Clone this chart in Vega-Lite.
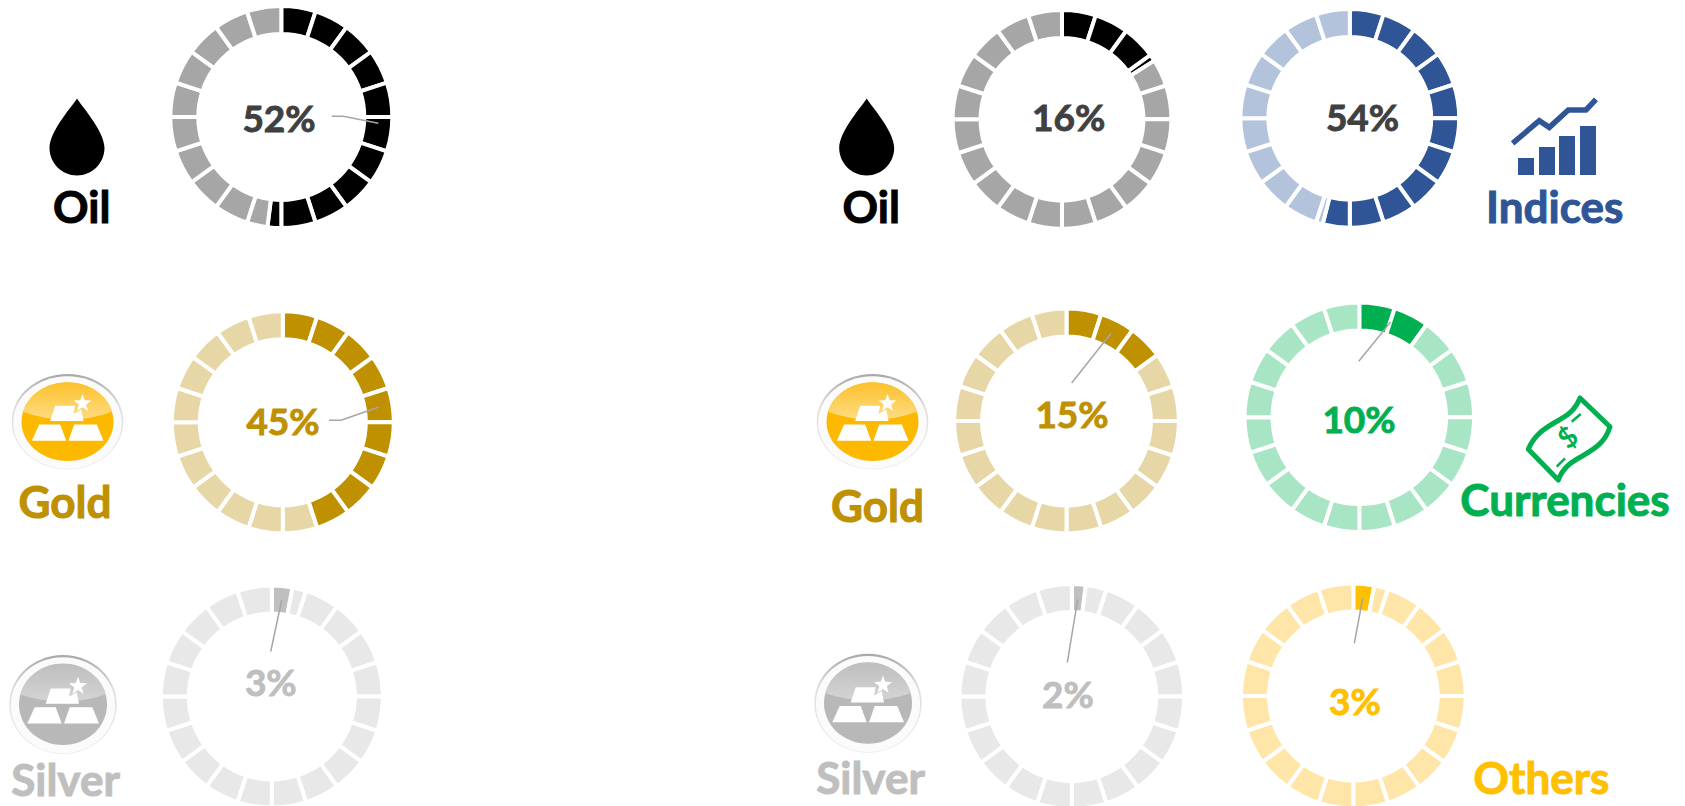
{"$schema":"https://vega.github.io/schema/vega-lite/v6.json","width":1685,"height":806,"padding":0,"autosize":"none","background":"white","view":{"stroke":null},
"config":{"text":{"font":"Lato"}},
"datasets":{
"rings":[
{"donut":1,"start":0,"end":5,"tone":"oil"},{"donut":1,"start":5,"end":10,"tone":"oil"},{"donut":1,"start":10,"end":15,"tone":"oil"},{"donut":1,"start":15,"end":20,"tone":"oil"},{"donut":1,"start":20,"end":25,"tone":"oil"},{"donut":1,"start":25,"end":30,"tone":"oil"},{"donut":1,"start":30,"end":35,"tone":"oil"},{"donut":1,"start":35,"end":40,"tone":"oil"},{"donut":1,"start":40,"end":45,"tone":"oil"},{"donut":1,"start":45,"end":50,"tone":"oil"},{"donut":1,"start":50,"end":52,"tone":"oil"},{"donut":1,"start":52,"end":55,"tone":"oilL"},{"donut":1,"start":55,"end":60,"tone":"oilL"},{"donut":1,"start":60,"end":65,"tone":"oilL"},{"donut":1,"start":65,"end":70,"tone":"oilL"},{"donut":1,"start":70,"end":75,"tone":"oilL"},{"donut":1,"start":75,"end":80,"tone":"oilL"},{"donut":1,"start":80,"end":85,"tone":"oilL"},{"donut":1,"start":85,"end":90,"tone":"oilL"},{"donut":1,"start":90,"end":95,"tone":"oilL"},{"donut":1,"start":95,"end":100,"tone":"oilL"},
{"donut":2,"start":0,"end":5,"tone":"gold"},{"donut":2,"start":5,"end":10,"tone":"gold"},{"donut":2,"start":10,"end":15,"tone":"gold"},{"donut":2,"start":15,"end":20,"tone":"gold"},{"donut":2,"start":20,"end":25,"tone":"gold"},{"donut":2,"start":25,"end":30,"tone":"gold"},{"donut":2,"start":30,"end":35,"tone":"gold"},{"donut":2,"start":35,"end":40,"tone":"gold"},{"donut":2,"start":40,"end":45,"tone":"gold"},{"donut":2,"start":45,"end":50,"tone":"goldL"},{"donut":2,"start":50,"end":55,"tone":"goldL"},{"donut":2,"start":55,"end":60,"tone":"goldL"},{"donut":2,"start":60,"end":65,"tone":"goldL"},{"donut":2,"start":65,"end":70,"tone":"goldL"},{"donut":2,"start":70,"end":75,"tone":"goldL"},{"donut":2,"start":75,"end":80,"tone":"goldL"},{"donut":2,"start":80,"end":85,"tone":"goldL"},{"donut":2,"start":85,"end":90,"tone":"goldL"},{"donut":2,"start":90,"end":95,"tone":"goldL"},{"donut":2,"start":95,"end":100,"tone":"goldL"},
{"donut":3,"start":0,"end":3,"tone":"silver"},{"donut":3,"start":3,"end":5,"tone":"silverL"},{"donut":3,"start":5,"end":10,"tone":"silverL"},{"donut":3,"start":10,"end":15,"tone":"silverL"},{"donut":3,"start":15,"end":20,"tone":"silverL"},{"donut":3,"start":20,"end":25,"tone":"silverL"},{"donut":3,"start":25,"end":30,"tone":"silverL"},{"donut":3,"start":30,"end":35,"tone":"silverL"},{"donut":3,"start":35,"end":40,"tone":"silverL"},{"donut":3,"start":40,"end":45,"tone":"silverL"},{"donut":3,"start":45,"end":50,"tone":"silverL"},{"donut":3,"start":50,"end":55,"tone":"silverL"},{"donut":3,"start":55,"end":60,"tone":"silverL"},{"donut":3,"start":60,"end":65,"tone":"silverL"},{"donut":3,"start":65,"end":70,"tone":"silverL"},{"donut":3,"start":70,"end":75,"tone":"silverL"},{"donut":3,"start":75,"end":80,"tone":"silverL"},{"donut":3,"start":80,"end":85,"tone":"silverL"},{"donut":3,"start":85,"end":90,"tone":"silverL"},{"donut":3,"start":90,"end":95,"tone":"silverL"},{"donut":3,"start":95,"end":100,"tone":"silverL"},
{"donut":4,"start":0,"end":5,"tone":"oil"},{"donut":4,"start":5,"end":10,"tone":"oil"},{"donut":4,"start":10,"end":15,"tone":"oil"},{"donut":4,"start":15,"end":16,"tone":"oil"},{"donut":4,"start":16,"end":20,"tone":"oilL"},{"donut":4,"start":20,"end":25,"tone":"oilL"},{"donut":4,"start":25,"end":30,"tone":"oilL"},{"donut":4,"start":30,"end":35,"tone":"oilL"},{"donut":4,"start":35,"end":40,"tone":"oilL"},{"donut":4,"start":40,"end":45,"tone":"oilL"},{"donut":4,"start":45,"end":50,"tone":"oilL"},{"donut":4,"start":50,"end":55,"tone":"oilL"},{"donut":4,"start":55,"end":60,"tone":"oilL"},{"donut":4,"start":60,"end":65,"tone":"oilL"},{"donut":4,"start":65,"end":70,"tone":"oilL"},{"donut":4,"start":70,"end":75,"tone":"oilL"},{"donut":4,"start":75,"end":80,"tone":"oilL"},{"donut":4,"start":80,"end":85,"tone":"oilL"},{"donut":4,"start":85,"end":90,"tone":"oilL"},{"donut":4,"start":90,"end":95,"tone":"oilL"},{"donut":4,"start":95,"end":100,"tone":"oilL"},
{"donut":5,"start":0,"end":5,"tone":"index"},{"donut":5,"start":5,"end":10,"tone":"index"},{"donut":5,"start":10,"end":15,"tone":"index"},{"donut":5,"start":15,"end":20,"tone":"index"},{"donut":5,"start":20,"end":25,"tone":"index"},{"donut":5,"start":25,"end":30,"tone":"index"},{"donut":5,"start":30,"end":35,"tone":"index"},{"donut":5,"start":35,"end":40,"tone":"index"},{"donut":5,"start":40,"end":45,"tone":"index"},{"donut":5,"start":45,"end":50,"tone":"index"},{"donut":5,"start":50,"end":54,"tone":"index"},{"donut":5,"start":54,"end":55,"tone":"indexL"},{"donut":5,"start":55,"end":60,"tone":"indexL"},{"donut":5,"start":60,"end":65,"tone":"indexL"},{"donut":5,"start":65,"end":70,"tone":"indexL"},{"donut":5,"start":70,"end":75,"tone":"indexL"},{"donut":5,"start":75,"end":80,"tone":"indexL"},{"donut":5,"start":80,"end":85,"tone":"indexL"},{"donut":5,"start":85,"end":90,"tone":"indexL"},{"donut":5,"start":90,"end":95,"tone":"indexL"},{"donut":5,"start":95,"end":100,"tone":"indexL"},
{"donut":6,"start":0,"end":5,"tone":"gold"},{"donut":6,"start":5,"end":10,"tone":"gold"},{"donut":6,"start":10,"end":15,"tone":"gold"},{"donut":6,"start":15,"end":20,"tone":"goldL"},{"donut":6,"start":20,"end":25,"tone":"goldL"},{"donut":6,"start":25,"end":30,"tone":"goldL"},{"donut":6,"start":30,"end":35,"tone":"goldL"},{"donut":6,"start":35,"end":40,"tone":"goldL"},{"donut":6,"start":40,"end":45,"tone":"goldL"},{"donut":6,"start":45,"end":50,"tone":"goldL"},{"donut":6,"start":50,"end":55,"tone":"goldL"},{"donut":6,"start":55,"end":60,"tone":"goldL"},{"donut":6,"start":60,"end":65,"tone":"goldL"},{"donut":6,"start":65,"end":70,"tone":"goldL"},{"donut":6,"start":70,"end":75,"tone":"goldL"},{"donut":6,"start":75,"end":80,"tone":"goldL"},{"donut":6,"start":80,"end":85,"tone":"goldL"},{"donut":6,"start":85,"end":90,"tone":"goldL"},{"donut":6,"start":90,"end":95,"tone":"goldL"},{"donut":6,"start":95,"end":100,"tone":"goldL"},
{"donut":7,"start":0,"end":5,"tone":"fx"},{"donut":7,"start":5,"end":10,"tone":"fx"},{"donut":7,"start":10,"end":15,"tone":"fxL"},{"donut":7,"start":15,"end":20,"tone":"fxL"},{"donut":7,"start":20,"end":25,"tone":"fxL"},{"donut":7,"start":25,"end":30,"tone":"fxL"},{"donut":7,"start":30,"end":35,"tone":"fxL"},{"donut":7,"start":35,"end":40,"tone":"fxL"},{"donut":7,"start":40,"end":45,"tone":"fxL"},{"donut":7,"start":45,"end":50,"tone":"fxL"},{"donut":7,"start":50,"end":55,"tone":"fxL"},{"donut":7,"start":55,"end":60,"tone":"fxL"},{"donut":7,"start":60,"end":65,"tone":"fxL"},{"donut":7,"start":65,"end":70,"tone":"fxL"},{"donut":7,"start":70,"end":75,"tone":"fxL"},{"donut":7,"start":75,"end":80,"tone":"fxL"},{"donut":7,"start":80,"end":85,"tone":"fxL"},{"donut":7,"start":85,"end":90,"tone":"fxL"},{"donut":7,"start":90,"end":95,"tone":"fxL"},{"donut":7,"start":95,"end":100,"tone":"fxL"},
{"donut":8,"start":0,"end":2,"tone":"silver"},{"donut":8,"start":2,"end":5,"tone":"silverL"},{"donut":8,"start":5,"end":10,"tone":"silverL"},{"donut":8,"start":10,"end":15,"tone":"silverL"},{"donut":8,"start":15,"end":20,"tone":"silverL"},{"donut":8,"start":20,"end":25,"tone":"silverL"},{"donut":8,"start":25,"end":30,"tone":"silverL"},{"donut":8,"start":30,"end":35,"tone":"silverL"},{"donut":8,"start":35,"end":40,"tone":"silverL"},{"donut":8,"start":40,"end":45,"tone":"silverL"},{"donut":8,"start":45,"end":50,"tone":"silverL"},{"donut":8,"start":50,"end":55,"tone":"silverL"},{"donut":8,"start":55,"end":60,"tone":"silverL"},{"donut":8,"start":60,"end":65,"tone":"silverL"},{"donut":8,"start":65,"end":70,"tone":"silverL"},{"donut":8,"start":70,"end":75,"tone":"silverL"},{"donut":8,"start":75,"end":80,"tone":"silverL"},{"donut":8,"start":80,"end":85,"tone":"silverL"},{"donut":8,"start":85,"end":90,"tone":"silverL"},{"donut":8,"start":90,"end":95,"tone":"silverL"},{"donut":8,"start":95,"end":100,"tone":"silverL"},
{"donut":9,"start":0,"end":3,"tone":"other"},{"donut":9,"start":3,"end":5,"tone":"otherL"},{"donut":9,"start":5,"end":10,"tone":"otherL"},{"donut":9,"start":10,"end":15,"tone":"otherL"},{"donut":9,"start":15,"end":20,"tone":"otherL"},{"donut":9,"start":20,"end":25,"tone":"otherL"},{"donut":9,"start":25,"end":30,"tone":"otherL"},{"donut":9,"start":30,"end":35,"tone":"otherL"},{"donut":9,"start":35,"end":40,"tone":"otherL"},{"donut":9,"start":40,"end":45,"tone":"otherL"},{"donut":9,"start":45,"end":50,"tone":"otherL"},{"donut":9,"start":50,"end":55,"tone":"otherL"},{"donut":9,"start":55,"end":60,"tone":"otherL"},{"donut":9,"start":60,"end":65,"tone":"otherL"},{"donut":9,"start":65,"end":70,"tone":"otherL"},{"donut":9,"start":70,"end":75,"tone":"otherL"},{"donut":9,"start":75,"end":80,"tone":"otherL"},{"donut":9,"start":80,"end":85,"tone":"otherL"},{"donut":9,"start":85,"end":90,"tone":"otherL"},{"donut":9,"start":90,"end":95,"tone":"otherL"},{"donut":9,"start":95,"end":100,"tone":"otherL"}
],
"percents":[{"slot":11,"text":"52%","tone":"text"},{"slot":12,"text":"45%","tone":"gold"},{"slot":13,"text":"3%","tone":"silver"},{"slot":14,"text":"16%","tone":"text"},{"slot":15,"text":"54%","tone":"text"},{"slot":16,"text":"15%","tone":"gold"},{"slot":17,"text":"10%","tone":"fx"},{"slot":18,"text":"2%","tone":"silver"},{"slot":19,"text":"3%","tone":"other"}],
"names":[{"slot":21,"text":"Oil","tone":"oil"},{"slot":22,"text":"Gold","tone":"gold"},{"slot":23,"text":"Silver","tone":"silver"},{"slot":24,"text":"Oil","tone":"oil"},{"slot":25,"text":"Indices","tone":"index"},{"slot":26,"text":"Gold","tone":"gold"},{"slot":27,"text":"Currencies","tone":"fx"},{"slot":28,"text":"Silver","tone":"silver"},{"slot":29,"text":"Others","tone":"other"}],
"icons":[{"slot":31,"icon":"drop"},{"slot":32,"icon":"gold"},{"slot":33,"icon":"silver"},{"slot":34,"icon":"drop"},{"slot":35,"icon":"indices"},{"slot":36,"icon":"gold"},{"slot":37,"icon":"note","text":"$","tone":"fx"},{"slot":38,"icon":"silver"}],
"leaders":[{"leader":"a","slot":41},{"leader":"a","slot":42},{"leader":"a","slot":43},{"leader":"b","slot":44},{"leader":"b","slot":45},{"leader":"b","slot":46},{"leader":"c","slot":47},{"leader":"c","slot":48},{"leader":"d","slot":49},{"leader":"d","slot":50},{"leader":"e","slot":51},{"leader":"e","slot":52},{"leader":"f","slot":53},{"leader":"f","slot":54},{"leader":"g","slot":55},{"leader":"g","slot":56}]
},
"encoding":{
"x":{"field":"slot","type":"quantitative","axis":null,"scale":{"zero":false,"nice":false,
"domain":[1,2,3,4,5,6,7,8,9,11,12,13,14,15,16,17,18,19,21,22,23,24,25,26,27,28,29,31,32,33,34,35,36,37,38,41,42,43,44,45,46,47,48,49,50,51,52,53,54,55,56],
"range":[281.3,282.8,271.8,1062,1349.8,1066.5,1359.3,1071.8,1353.3,279,283,270.8,1068.7,1362.5,1072,1359,1068,1355,81.7,65,65.5,871.2,1554.7,877.5,1565,870.5,1541.5,77,67.5,63,866.7,1554.3,872.5,1569,868,331.7,343.3,378.3,329,341,379,270.7,281.7,1071.7,1111,1358.7,1390.7,1067.3,1077.7,1354.3,1362.7]}},
"y":{"field":"slot","type":"quantitative","axis":null,"scale":{"zero":false,"nice":false,
"domain":[1,2,3,4,5,6,7,8,9,11,12,13,14,15,16,17,18,19,21,22,23,24,25,26,27,28,29,31,32,33,34,35,36,37,38,41,42,43,44,45,46,47,48,49,50,51,52,53,54,55,56],
"range":[117,422.3,696.5,119.3,118.3,421,417.2,696.5,696,131.7,435,696,131,131,428,432.7,707.7,715,222.7,517.7,795.7,222.7,223.3,521.7,515.7,794.3,794,137,421.7,704.5,137,136.7,421.7,439,703.3,116.3,116.3,123.3,420.3,420.3,407,651.7,600,383,333.3,361.3,322,662.7,599.3,643.3,598.3]}}
},
"layer":[
{"data":{"name":"rings"},"transform":[{"calculate":"datum.donut","as":"slot"},{"filter":"datum.donut<=3"}],
"mark":{"type":"arc","outerRadius":111,"innerRadius":83,"stroke":"white","strokeWidth":4},
"encoding":{"theta":{"field":"start","type":"quantitative","stack":null,"scale":{"domain":[0,100],"range":[0,6.283185]}},"theta2":{"field":"end"},"color":{"field":"tone","type":"nominal","legend":null,"scale":{"domain":["oil","oilL","gold","goldL","silver","silverL","index","indexL","fx","fxL","other","otherL","text"],"range":["#000000","#A6A6A6","#BF9000","#E8D7A6","#BFBFBF","#E8E8E8","#2F5597","#B4C3DC","#00B050","#A8E5C4","#FFC000","#FFE6A8","#404040"]}}}},
{"data":{"name":"rings"},"transform":[{"calculate":"datum.donut","as":"slot"},{"filter":"datum.donut==4||datum.donut==5"}],
"mark":{"type":"arc","outerRadius":109.4,"innerRadius":81.4,"stroke":"white","strokeWidth":4},
"encoding":{"theta":{"field":"start","type":"quantitative","stack":null,"scale":{"domain":[0,100],"range":[0,6.283185]}},"theta2":{"field":"end"},"color":{"field":"tone","type":"nominal","legend":null}}},
{"data":{"name":"rings"},"transform":[{"calculate":"datum.donut","as":"slot"},{"filter":"datum.donut==6||datum.donut==8||datum.donut==9"}],
"mark":{"type":"arc","outerRadius":112.4,"innerRadius":84.4,"stroke":"white","strokeWidth":4},
"encoding":{"theta":{"field":"start","type":"quantitative","stack":null,"scale":{"domain":[0,100],"range":[0,6.283185]}},"theta2":{"field":"end"},"color":{"field":"tone","type":"nominal","legend":null}}},
{"data":{"name":"rings"},"transform":[{"calculate":"datum.donut","as":"slot"},{"filter":"datum.donut==7"}],
"mark":{"type":"arc","outerRadius":114.8,"innerRadius":86.8,"stroke":"white","strokeWidth":4},
"encoding":{"theta":{"field":"start","type":"quantitative","stack":null,"scale":{"domain":[0,100],"range":[0,6.283185]}},"theta2":{"field":"end"},"color":{"field":"tone","type":"nominal","legend":null}}},
{"data":{"name":"leaders"},"mark":{"type":"line","color":"#A6A6A6","strokeWidth":1.5},"encoding":{"detail":{"field":"leader"},"order":{"field":"slot"}}},
{"data":{"name":"percents"},"mark":{"type":"text","fontSize":37,"fontWeight":"bold","align":"center","baseline":"alphabetic","strokeWidth":0.9},"encoding":{"text":{"field":"text"},"color":{"field":"tone","type":"nominal","legend":null},"stroke":{"field":"tone","type":"nominal","legend":null,"scale":{"domain":["oil","gold","silver","index","fx","other","text"],"range":["#000000","#BF9000","#BFBFBF","#2F5597","#00B050","#FFC000","#404040"]}}}},
{"data":{"name":"names"},"mark":{"type":"text","fontSize":44,"fontWeight":"bold","align":"center","baseline":"alphabetic","strokeWidth":1},"encoding":{"text":{"field":"text"},"color":{"field":"tone","type":"nominal","legend":null},"stroke":{"field":"tone","type":"nominal","legend":null}}},
{"data":{"name":"icons"},"transform":[{"filter":"datum.icon=='drop'"}],"mark":{"type":"point","filled":true,"opacity":1,"size":4,"fill":"#000000","strokeWidth":0,"shape":"M0,-38.5C3,-33 27.5,-6 27.5,11C27.5,26 15,38.5 0,38.5C-15,38.5 -27.5,26 -27.5,11C-27.5,-6 -3,-33 0,-38.5Z"}},
{"data":{"name":"icons"},"transform":[{"filter":"datum.icon=='gold'"}],"mark":{"type":"point","filled":true,"opacity":1,"size":4,"strokeWidth":0,"fill":{"gradient":"linear","x1":0,"y1":0,"x2":0,"y2":1,"stops":[{"offset":0,"color":"#A8A8A8"},{"offset":0.35,"color":"#DEDEDE"},{"offset":1,"color":"#EDEDED"}]},"shape":"M-55.8,0A55.8,47.7 0 1,1 55.8,0A55.8,47.7 0 1,1 -55.8,0Z"}},
{"data":{"name":"icons"},"transform":[{"filter":"datum.icon=='gold'"}],"mark":{"type":"point","filled":true,"opacity":1,"size":4,"strokeWidth":0,"fill":"#FBFBFB","shape":"M-54.3,0.8A54.3,46.2 0 1,1 54.3,0.8A54.3,46.2 0 1,1 -54.3,0.8Z"}},
{"data":{"name":"icons"},"transform":[{"filter":"datum.icon=='gold'"}],"mark":{"type":"point","filled":true,"opacity":1,"size":4,"strokeWidth":0,"fill":"#FCB900","shape":"M-46,0A46,39.3 0 1,1 46,0A46,39.3 0 1,1 -46,0Z"}},
{"data":{"name":"icons"},"transform":[{"filter":"datum.icon=='gold'"}],"mark":{"type":"point","filled":true,"opacity":1,"size":4,"strokeWidth":0,"fill":{"gradient":"linear","x1":0,"y1":0,"x2":0,"y2":1,"stops":[{"offset":0,"color":"#FCC12A"},{"offset":1,"color":"#FEDC85"}]},"shape":"M-44.5,-10A46,39.3 0 0,1 44.5,-10Q0,6 -44.5,-10Z"}},
{"data":{"name":"icons"},"transform":[{"filter":"datum.icon=='silver'"}],"mark":{"type":"point","filled":true,"opacity":1,"size":4,"strokeWidth":0,"fill":{"gradient":"linear","x1":0,"y1":0,"x2":0,"y2":1,"stops":[{"offset":0,"color":"#A8A8A8"},{"offset":0.35,"color":"#DEDEDE"},{"offset":1,"color":"#EDEDED"}]},"shape":"M-53.7,0A53.7,49.5 0 1,1 53.7,0A53.7,49.5 0 1,1 -53.7,0Z"}},
{"data":{"name":"icons"},"transform":[{"filter":"datum.icon=='silver'"}],"mark":{"type":"point","filled":true,"opacity":1,"size":4,"strokeWidth":0,"fill":"#FBFBFB","shape":"M-52.2,0.8A52.2,48 0 1,1 52.2,0.8A52.2,48 0 1,1 -52.2,0.8Z"}},
{"data":{"name":"icons"},"transform":[{"filter":"datum.icon=='silver'"}],"mark":{"type":"point","filled":true,"opacity":1,"size":4,"strokeWidth":0,"fill":"#B8B8B8","shape":"M-44,0A44,40.5 0 1,1 44,0A44,40.5 0 1,1 -44,0Z"}},
{"data":{"name":"icons"},"transform":[{"filter":"datum.icon=='silver'"}],"mark":{"type":"point","filled":true,"opacity":1,"size":4,"strokeWidth":0,"fill":{"gradient":"linear","x1":0,"y1":0,"x2":0,"y2":1,"stops":[{"offset":0,"color":"#BEBEBE"},{"offset":1,"color":"#D4D4D4"}]},"shape":"M-42.8,-10A44,40.5 0 0,1 42.8,-10Q0,4 -42.8,-10Z"}},
{"data":{"name":"icons"},"transform":[{"filter":"datum.icon=='gold'||datum.icon=='silver'"}],"mark":{"type":"point","filled":true,"opacity":1,"size":4,"strokeWidth":0,"fill":"#FFFFFF","shape":"M-35.7,19L-1.3,19L-7.3,2.7L-28.3,2.7ZM1,19L36,19L29.3,2.7L6.7,2.7ZM-17.3,-0.7L16,-0.7L13.7,-12.3L6,-7.7L7.7,-16L-12.3,-16ZM15,-27.8L17.29,-21.46L24.03,-21.24L18.71,-17.09L20.58,-10.61L15,-14.4L9.42,-10.61L11.29,-17.09L5.97,-21.24L12.71,-21.46Z"}},
{"data":{"name":"icons"},"transform":[{"filter":"datum.icon=='indices'"}],"mark":{"type":"point","filled":true,"opacity":1,"size":4,"strokeWidth":0,"fill":"#2F5597","shape":"M-36.3,21.3H-20.3V38.3H-36.3ZM-15.3,10.3H0.7V38.3H-15.3ZM4.7,-0.7H20.7V38.3H4.7ZM25.7,-10.7H41.7V38.3H25.7Z"}},
{"data":{"name":"icons"},"transform":[{"filter":"datum.icon=='indices'"}],"mark":{"type":"point","filled":false,"opacity":1,"size":4,"strokeWidth":5.5,"stroke":"#2F5597","fill":null,"shape":"M-41.7,6.7L-15,-16L-5,-9.3L14,-26.7L31.7,-26.7L41.7,-37.3"}},
{"data":{"name":"icons"},"transform":[{"filter":"datum.icon=='note'"}],"mark":{"type":"point","filled":false,"opacity":1,"size":4,"strokeWidth":5,"strokeJoin":"round","stroke":"#00B050","fill":null,"shape":"M11,-41C5,-26 -5,-22 -15,-16C-25,-10 -35,-4 -40.7,10.3L-10.7,41C-5,26 5,22 15,16C25,10 36,4 41,-12.3Z"}},
{"data":{"name":"icons"},"transform":[{"filter":"datum.icon=='note'"}],"mark":{"type":"point","filled":false,"opacity":1,"size":4,"strokeWidth":2.5,"stroke":"#00B050","fill":null,"shape":"M2.7,-17.3L11.7,-25M-12.3,27.7L-4,19.3"}},
{"data":{"name":"icons"},"transform":[{"filter":"datum.icon=='note'"}],"mark":{"type":"text","fontSize":28,"fontWeight":"bold","angle":-40,"align":"center","baseline":"middle"},"encoding":{"text":{"field":"text"},"color":{"field":"tone","type":"nominal","legend":null}}}
]}
